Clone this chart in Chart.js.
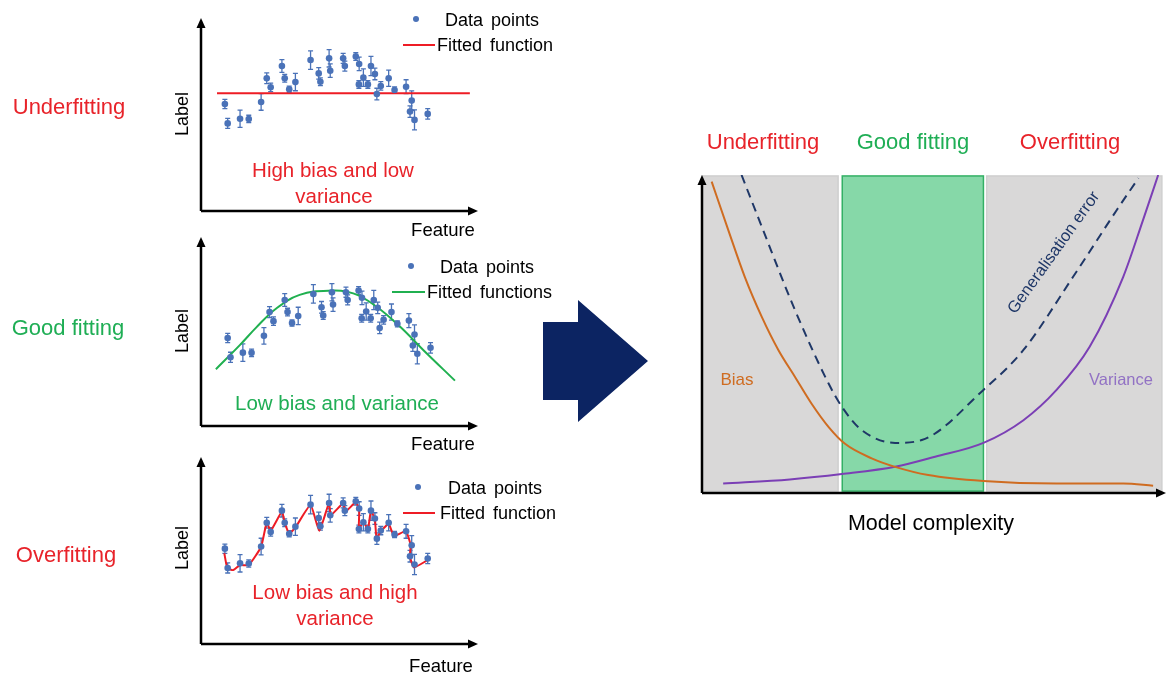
<!DOCTYPE html>
<html>
<head>
<meta charset="utf-8">
<script src="https://cdn.jsdelivr.net/npm/chart.js@4.4.1/dist/chart.umd.min.js"></script>
<style>
  body { margin: 0; width: 1167px; height: 675px; background: #fff; position: relative; overflow: hidden;
         font-family: "Liberation Sans", Arial, sans-serif; }
  canvas { position: absolute; }
  .t { position: absolute; white-space: nowrap; transform: translate(-50%, -50%); line-height: 1; }
  .l { position: absolute; white-space: nowrap; transform: translateY(-50%); line-height: 1; }
  .red { color: #e8232a; }
  .green { color: #1fae55; }
  .dot { position: absolute; width: 6px; height: 6px; border-radius: 50%; background: #4a72b8; transform: translate(-50%, -50%); }
  .key { position: absolute; height: 2px; transform: translateY(-50%); }
</style>
</head>
<body>
<canvas id="under"></canvas>
<canvas id="good"></canvas>
<canvas id="over"></canvas>
<canvas id="tradeoff"></canvas>

<svg style="position:absolute;left:0;top:0" width="1167" height="675">
  <polygon points="543,322 578,322 578,300 648,361 578,422 578,400 543,400" fill="#0c2462"/>
</svg>

<!-- row labels -->
<div class="t red" style="left:69px;top:107px;font-size:22px">Underfitting</div>
<div class="t green" style="left:68px;top:328px;font-size:22px">Good fitting</div>
<div class="t red" style="left:66px;top:555px;font-size:22px">Overfitting</div>

<!-- small chart axis titles -->
<div class="t" style="left:182px;top:114px;font-size:18px;transform:translate(-50%,-50%) rotate(-90deg)">Label</div>
<div class="t" style="left:182px;top:331px;font-size:18px;transform:translate(-50%,-50%) rotate(-90deg)">Label</div>
<div class="t" style="left:182px;top:548px;font-size:18px;transform:translate(-50%,-50%) rotate(-90deg)">Label</div>
<div class="t" style="left:443px;top:230px;font-size:18.5px">Feature</div>
<div class="t" style="left:443px;top:444px;font-size:18.5px">Feature</div>
<div class="t" style="left:441px;top:666px;font-size:18.5px">Feature</div>

<!-- notes inside the small charts -->
<div class="t red" style="left:333px;top:170px;font-size:20.5px">High bias and low</div>
<div class="t red" style="left:334px;top:196px;font-size:20.5px">variance</div>
<div class="t green" style="left:337px;top:403px;font-size:20.5px">Low bias and variance</div>
<div class="t red" style="left:335px;top:592px;font-size:20.5px">Low bias and high</div>
<div class="t red" style="left:335px;top:618px;font-size:20.5px">variance</div>

<!-- legends -->
<div class="dot" style="left:416px;top:19px"></div>
<div class="l" style="left:445px;top:20px;font-size:18px;word-spacing:3px">Data points</div>
<div class="key" style="left:403px;top:45px;width:32px;background:#ee1c25"></div>
<div class="l" style="left:437px;top:45px;font-size:18px;word-spacing:3px">Fitted function</div>

<div class="dot" style="left:411px;top:266px"></div>
<div class="l" style="left:440px;top:267px;font-size:18px;word-spacing:3px">Data points</div>
<div class="key" style="left:392px;top:292px;width:33px;background:#20b050"></div>
<div class="l" style="left:427px;top:292px;font-size:18px;word-spacing:3px">Fitted functions</div>

<div class="dot" style="left:418px;top:487px"></div>
<div class="l" style="left:448px;top:488px;font-size:18px;word-spacing:3px">Data points</div>
<div class="key" style="left:403px;top:513px;width:32px;background:#ee1c25"></div>
<div class="l" style="left:440px;top:513px;font-size:18px;word-spacing:3px">Fitted function</div>

<!-- trade-off chart texts -->
<div class="t red" style="left:763px;top:142px;font-size:22px">Underfitting</div>
<div class="t green" style="left:913px;top:142px;font-size:22px">Good fitting</div>
<div class="t red" style="left:1070px;top:142px;font-size:22px">Overfitting</div>
<div class="t" style="left:931px;top:524px;font-size:21.5px">Model complexity</div>
<div class="t" style="left:737px;top:379px;font-size:17px;color:#cf6c21">Bias</div>
<div class="t" style="left:1121px;top:379px;font-size:16.5px;color:#9272c4">Variance</div>
<div class="t" style="left:1053px;top:252px;font-size:16.5px;color:#1f3767;transform:translate(-50%,-50%) rotate(-54.5deg)">Generalisation error</div>

<script>
// measurements shared by the three small panels
const featureX = [0.85, 0.95, 1.39, 1.70, 2.14, 2.34, 2.48, 2.88, 2.98, 3.14, 3.36, 3.90, 4.19, 4.25, 4.56, 4.60, 5.06,
                  5.12, 5.51, 5.63, 5.62, 5.78, 5.94, 6.05, 6.19, 6.26, 6.40, 6.68, 6.89, 7.30, 7.50, 7.44, 7.60, 8.07];
const labelY = [5.54, 4.54, 4.78, 4.77, 5.65, 6.88, 6.41, 7.51, 6.88, 6.31, 6.68, 7.82, 7.13, 6.70, 7.91, 7.27, 7.91,
                7.51, 8.00, 7.62, 6.56, 6.91, 6.56, 7.51, 7.10, 6.06, 6.48, 6.88, 6.27, 6.44, 5.72, 5.15, 4.72, 5.03];
const labelErr = [0.24, 0.26, 0.45, 0.19, 0.43, 0.28, 0.22, 0.33, 0.20, 0.16, 0.45, 0.48, 0.30, 0.20, 0.45, 0.35, 0.26,
                  0.26, 0.20, 0.35, 0.20, 0.45, 0.20, 0.50, 0.30, 0.30, 0.22, 0.42, 0.16, 0.36, 0.50, 0.30, 0.52, 0.27];

// fitted functions
const flatX = [0.57, 9.57];
const flatY = [6.10, 6.10];
const curveX = [0.43, 1.29, 1.87, 2.59, 3.41, 4.43, 5.32, 6.15, 6.98, 7.81, 8.94];
const curveY = [3.92, 5.18, 6.09, 7.08, 7.77, 7.99, 7.85, 7.16, 6.13, 4.92, 3.33];
const wiggleX = [0.83, 0.94, 1.15, 1.39, 1.70, 2.14, 2.34, 2.48, 2.88, 2.98, 3.14, 3.36, 3.90, 4.21, 4.56, 4.62, 5.06,
                 5.14, 5.51, 5.63, 5.62, 5.78, 5.94, 6.05, 6.19, 6.25, 6.39, 6.68, 6.87, 7.29, 7.46, 7.44, 7.58, 8.07];
const wiggleY = [5.30, 4.52, 4.43, 4.69, 4.69, 5.64, 6.89, 6.47, 7.46, 6.89, 6.33, 6.64, 7.80, 6.47, 7.92, 7.28, 7.89,
                 7.46, 7.94, 7.54, 6.54, 6.94, 6.54, 7.51, 7.02, 6.08, 6.42, 6.82, 6.20, 6.45, 5.73, 5.12, 4.57, 4.95];

// bias-variance trade-off (model complexity vs error)
const biasX = [0.21, 0.57, 0.93, 1.30, 1.66, 2.02, 2.38, 2.75, 3.11, 3.69, 4.20, 4.92, 6.12, 7.71, 9.16, 9.81];
const biasY = [9.82, 8.29, 6.80, 5.53, 4.48, 3.63, 2.78, 2.04, 1.50, 1.04, 0.77, 0.51, 0.32, 0.24, 0.24, 0.17];
const varianceX = [0.46, 1.91, 3.04, 4.20, 5.07, 6.12, 6.99, 7.71, 8.43, 9.16, 9.59, 9.92];
const varianceY = [0.24, 0.37, 0.54, 0.77, 1.09, 1.53, 2.25, 3.21, 4.58, 6.80, 8.60, 10.03];
const errorX = [0.86, 1.30, 2.02, 2.75, 3.04, 3.47, 4.20, 4.78, 6.12, 6.99, 8.07, 9.02, 9.49];
const errorY = [10.03, 8.39, 5.75, 3.42, 2.68, 1.94, 1.53, 1.62, 3.21, 4.48, 6.80, 8.92, 9.93];
const zoneStart = [0, 3.05, 6.19];
const zoneEnd = [2.96, 6.12, 10];

const zoneFill = ['#d9d8d8', '#86d8a8', '#d9d8d8'];
const zoneLine = ['#cfcfcf', '#33b065', '#cfcfcf'];
const BLUE = '#4a72b8';

const pts = (xs, ys) => xs.map((x, i) => ({ x: x, y: ys[i] }));

function mount(id, area, pad) {
    const c = document.getElementById(id);
    c.width = area.w + pad.l + pad.r;
    c.height = area.h + pad.t + pad.b;
    c.style.left = (area.x - pad.l) + 'px';
    c.style.top = (area.y - pad.t) + 'px';
    return c;
}

// black axes with arrow heads
const arrowAxes = {
    id: 'arrowAxes',
    afterDraw(chart, args, opts) {
        const { ctx, chartArea: a } = chart;
        const ox = a.left, oy = a.bottom;
        ctx.save();
        ctx.strokeStyle = '#000';
        ctx.fillStyle = '#000';
        ctx.lineWidth = opts.width || 2.5;
        ctx.beginPath();
        ctx.moveTo(ox, oy); ctx.lineTo(ox, a.top + 6);
        ctx.moveTo(ox, oy); ctx.lineTo(a.right - 6, oy);
        ctx.stroke();
        ctx.beginPath();
        ctx.moveTo(ox, a.top); ctx.lineTo(ox - 4.5, a.top + 10); ctx.lineTo(ox + 4.5, a.top + 10);
        ctx.fill();
        ctx.beginPath();
        ctx.moveTo(a.right, oy); ctx.lineTo(a.right - 10, oy - 4.5); ctx.lineTo(a.right - 10, oy + 4.5);
        ctx.fill();
        ctx.restore();
    }
};

// vertical error bars with caps
const errorBars = {
    id: 'errorBars',
    beforeDatasetsDraw(chart) {
        const { ctx, scales: { x, y } } = chart;
        chart.data.datasets.forEach(ds => {
            if (!ds.errors) return;
            ctx.save();
            ctx.strokeStyle = ds.backgroundColor;
            ctx.lineWidth = 1.3;
            ds.data.forEach((p, i) => {
                const px = x.getPixelForValue(p.x);
                const top = y.getPixelForValue(p.y + ds.errors[i]);
                const bot = y.getPixelForValue(p.y - ds.errors[i]);
                ctx.beginPath();
                ctx.moveTo(px, top); ctx.lineTo(px, bot);
                ctx.moveTo(px - 2.5, top); ctx.lineTo(px + 2.5, top);
                ctx.moveTo(px - 2.5, bot); ctx.lineTo(px + 2.5, bot);
                ctx.stroke();
            });
            ctx.restore();
        });
    }
};

// shaded complexity zones behind the curves
const zones = {
    id: 'zones',
    beforeDatasetsDraw(chart) {
        const { ctx, scales: { x, y } } = chart;
        ctx.save();
        zoneStart.forEach((s, i) => {
            const l = x.getPixelForValue(s), r = x.getPixelForValue(zoneEnd[i]);
            const t = y.getPixelForValue(10), b = y.getPixelForValue(0);
            ctx.fillStyle = zoneFill[i];
            ctx.fillRect(l, t, r - l, b - t);
            ctx.strokeStyle = zoneLine[i];
            ctx.lineWidth = 1.5;
            ctx.strokeRect(l, t, r - l, b - t);
        });
        ctx.restore();
    }
};

function panel(id, area, xr, yr, lineX, lineY, lineColor, tension) {
    const pad = { l: 10, r: 10, t: 4, b: 6 };
    const canvas = mount(id, area, pad);
    return new Chart(canvas, {
        type: 'scatter',
        data: {
            datasets: [
                {
                    data: pts(featureX, labelY),
                    errors: labelErr,
                    backgroundColor: BLUE,
                    pointRadius: 3.3,
                    borderWidth: 0,
                    order: 0,
                },
                {
                    type: 'line',
                    data: pts(lineX, lineY),
                    borderColor: lineColor,
                    borderWidth: 2,
                    pointRadius: 0,
                    tension: tension,
                    fill: false,
                    order: 1,
                },
            ],
        },
        options: {
            responsive: false,
            animation: false,
            layout: { padding: { left: pad.l, right: pad.r, top: pad.t, bottom: pad.b } },
            plugins: { legend: { display: false }, tooltip: { enabled: false }, arrowAxes: { width: 2.5 } },
            scales: {
                x: { type: 'linear', display: false, min: xr[0], max: xr[1] },
                y: { display: false, min: yr[0], max: yr[1] },
            },
        },
        plugins: [errorBars, arrowAxes],
    });
}

panel('under', { x: 201, y: 18, w: 277, h: 193 }, [0, 9.86], [0, 10], flatX, flatY, '#ee1c25', 0);
panel('good', { x: 201, y: 237, w: 277, h: 189 }, [-0.1, 9.76], [0.98, 10.77], curveX, curveY, '#20b050', 0.4);
panel('over', { x: 201, y: 457, w: 277, h: 187 }, [0, 9.86], [0.6, 10.29], wiggleX, wiggleY, '#ee1c25', 0.15);

// trade-off chart
const curve = (xs, ys, color, dash) => ({
    type: 'line',
    data: pts(xs, ys),
    borderColor: color,
    borderWidth: 2,
    borderDash: dash || [],
    pointRadius: 0,
    cubicInterpolationMode: 'monotone',
});
const tPad = { l: 10, r: 1, t: 2, b: 6 };
new Chart(mount('tradeoff', { x: 702, y: 175, w: 464, h: 318 }, tPad), {
    type: 'scatter',
    data: {
        datasets: [
            curve(biasX, biasY, '#cf6c21'),
            curve(varianceX, varianceY, '#7b3fb5'),
            curve(errorX, errorY, '#1f3767', [9, 6]),
        ],
    },
    options: {
        responsive: false,
        animation: false,
        layout: { padding: { left: tPad.l, right: tPad.r, top: tPad.t, bottom: tPad.b } },
        plugins: { legend: { display: false }, tooltip: { enabled: false }, arrowAxes: { width: 2.5 } },
        scales: {
            x: { type: 'linear', display: false, min: 0, max: 10.09 },
            y: { display: false, min: -0.06, max: 10.03 },
        },
    },
    plugins: [zones, arrowAxes],
});
</script>
</body>
</html>
